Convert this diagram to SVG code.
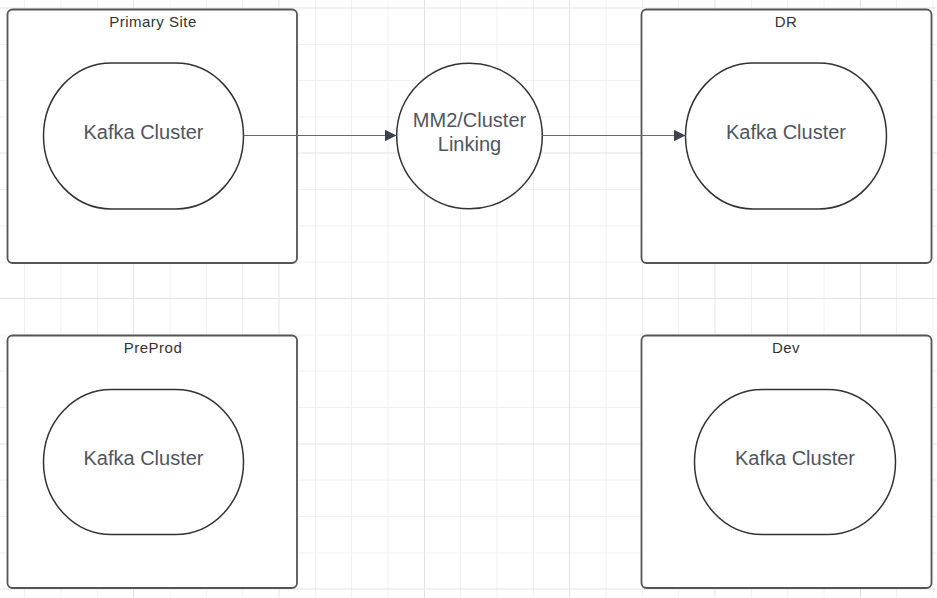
<svg xmlns="http://www.w3.org/2000/svg" width="937" height="598" viewBox="0 0 937 598">
  <style>
    .minor { stroke: #f0f0f0; stroke-width: 1; fill: none; }
    .major { stroke: #e3e3e3; stroke-width: 1; fill: none; }
    .site { fill: #ffffff; stroke: #555555; stroke-width: 1.8; }
    .cluster { fill: #ffffff; stroke: #333333; stroke-width: 1.5; }
    .title { font-family: "Liberation Sans", Arial, sans-serif; font-size: 15px; letter-spacing: 0.5px; fill: #333333; text-anchor: middle; }
    .label { font-family: "Liberation Sans", Arial, sans-serif; font-size: 20px; fill: #4f555e; text-anchor: middle; }
    .conn { stroke: #666a70; stroke-width: 1; fill: none; }
  </style>
  <defs>
    <marker id="arrow" markerUnits="userSpaceOnUse" markerWidth="12" markerHeight="12" refX="12" refY="6" orient="auto">
      <path d="M0,0 L12,6 L0,12 Z" fill="#3d434c"/>
    </marker>
  </defs>
  <rect x="0" y="0" width="937" height="598" fill="#ffffff"/>
  <g id="grid">
    <path class="minor" d="M24.5,0V598 M61,0V598 M97.5,0V598 M170,0V598 M206.5,0V598 M242.5,0V598 M315.5,0V598 M351.5,0V598 M388,0V598 M460.5,0V598 M497,0V598 M533.5,0V598 M606,0V598 M642.5,0V598 M678.5,0V598 M751.5,0V598 M787.5,0V598 M824,0V598 M896.5,0V598 M933,0V598
      M0,44.5H937 M0,80.5H937 M0,117H937 M0,189.5H937 M0,226H937 M0,262H937 M0,335H937 M0,371H937 M0,407.5H937 M0,480H937 M0,516.5H937 M0,553H937"/>
    <path class="major" d="M133.5,0V598 M279,0V598 M424.5,0V598 M569.5,0V598 M715,0V598 M860.5,0V598
      M0,8H937 M0,153H937 M0,298.5H937 M0,444H937 M0,589H937"/>
  </g>
  <g id="primary-site">
    <rect class="site" x="7.5" y="9.5" width="289.5" height="253.5" rx="5"/>
    <text class="title" x="153" y="27.3">Primary Site</text>
  </g>
  <g id="primary-kafka">
    <rect class="cluster" x="43.5" y="63" width="200" height="146" rx="68" ry="73"/>
    <text class="label" x="143.5" y="139">Kafka Cluster</text>
  </g>
  <g id="dr-site">
    <rect class="site" x="641.5" y="9.5" width="290" height="253.5" rx="5"/>
    <text class="title" x="786" y="27.3">DR</text>
  </g>
  <g id="dr-kafka">
    <rect class="cluster" x="685.5" y="63" width="201" height="146" rx="68" ry="73"/>
    <text class="label" x="786" y="139">Kafka Cluster</text>
  </g>
  <g id="preprod-site">
    <rect class="site" x="7.5" y="335.5" width="289.5" height="252.5" rx="5"/>
    <text class="title" x="153" y="352.5">PreProd</text>
  </g>
  <g id="preprod-kafka">
    <rect class="cluster" x="43.5" y="389.5" width="200" height="145" rx="68" ry="72.5"/>
    <text class="label" x="143.5" y="465">Kafka Cluster</text>
  </g>
  <g id="dev-site">
    <rect class="site" x="641.5" y="335.5" width="290" height="252.5" rx="5"/>
    <text class="title" x="786" y="352.5">Dev</text>
  </g>
  <g id="dev-kafka">
    <rect class="cluster" x="694.5" y="389.5" width="201" height="145" rx="68" ry="72.5"/>
    <text class="label" x="795" y="465">Kafka Cluster</text>
  </g>
  <g id="mm2">
    <circle class="cluster" cx="469.5" cy="136" r="72.8"/>
    <text class="label" x="469.5" y="126.7">MM2/Cluster</text>
    <text class="label" x="469.5" y="150.7">Linking</text>
  </g>
  <g id="connectors">
    <line class="conn" x1="243.5" y1="135.5" x2="396.5" y2="135.5" marker-end="url(#arrow)"/>
    <line class="conn" x1="542.3" y1="135.5" x2="685.5" y2="135.5" marker-end="url(#arrow)"/>
  </g>
</svg>
